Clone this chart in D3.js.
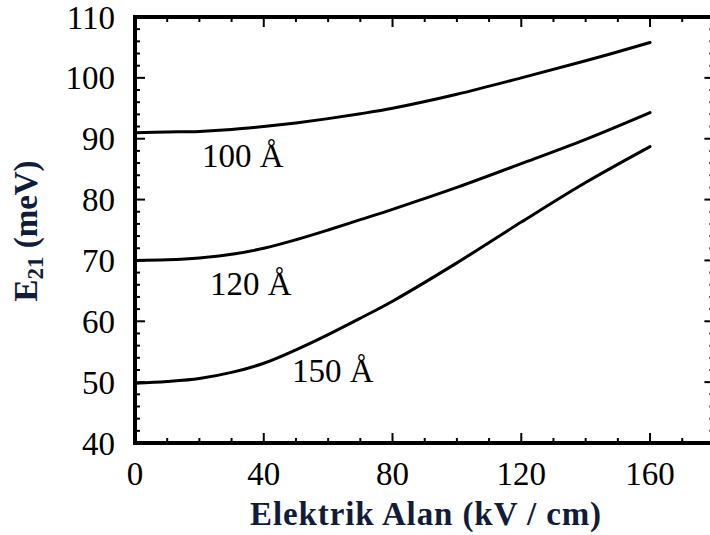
<!DOCTYPE html>
<html>
<head>
<meta charset="utf-8">
<script src="https://cdn.jsdelivr.net/npm/d3@7"></script>
<style>
  html, body { margin: 0; padding: 0; background: #fff; }
  svg { display: block; }
  text { font-family: "Liberation Serif", "Times New Roman", "DejaVu Serif", serif; }
</style>
</head>
<body>
<svg id="chart" width="710" height="535"></svg>
<script>
// Electric field (kV/cm) at which each curve is sampled
const fieldKV = [0, 10, 20, 30, 40, 50, 60, 70, 80, 100, 120, 140, 160];

// E21 transition energy (meV) for three well widths
const well100 = [91.0, 91.1, 91.2, 91.5, 92.0, 92.6, 93.3, 94.1, 95.0, 97.3, 100.0, 102.8, 105.8];
const well120 = [70.0, 70.1, 70.4, 71.0, 72.0, 73.4, 75.0, 76.7, 78.4, 82.0, 85.9, 89.9, 94.3];
const well150 = [49.8, 50.1, 50.6, 51.6, 53.1, 55.3, 57.8, 60.5, 63.3, 69.6, 76.3, 82.8, 88.7];

const seriesLabels = ["100 Å", "120 Å", "150 Å"];
const labelField = [20.8, 23.3, 48.8];   // left edge of each curve label, kV/cm
const labelEnergy = [85.4, 64.3, 50.0];  // baseline of each curve label, meV

const xTickLabels = [0, 40, 80, 120, 160];
const yTickLabels = [40, 50, 60, 70, 80, 90, 100, 110];

const serif = "'Liberation Serif', 'Times New Roman', 'DejaVu Serif', serif";
const svg = d3.select("#chart");
const plotLeft = 135, plotTop = 17, plotBottom = 443;
const x = d3.scaleLinear().domain([0, 180]).range([plotLeft, plotLeft + 180 * 3.219]);
const y = d3.scaleLinear().domain([40, 110]).range([plotBottom, plotTop]);
const plotRight = x(180);

const ink = "#000";
const titleInk = "#111c3a";

// minor/major tick marks on all four sides, pointing inward
const g = svg.append("g");
const xMinor = d3.range(0, 181, 10);
const yMinor = d3.range(40, 111, 2);
xMinor.forEach(v => {
  const len = v % 40 === 0 ? 10 : 5;
  g.append("line").attr("x1", x(v)).attr("x2", x(v)).attr("y1", plotBottom).attr("y2", plotBottom - len)
    .attr("stroke", ink).attr("stroke-width", 2);
  g.append("line").attr("x1", x(v)).attr("x2", x(v)).attr("y1", plotTop).attr("y2", plotTop + len)
    .attr("stroke", ink).attr("stroke-width", 2);
});
yMinor.forEach(v => {
  const len = v % 10 === 0 ? 10 : 5;
  g.append("line").attr("x1", plotLeft).attr("x2", plotLeft + len).attr("y1", y(v)).attr("y2", y(v))
    .attr("stroke", ink).attr("stroke-width", 2);
  g.append("line").attr("x1", plotRight).attr("x2", plotRight - len).attr("y1", y(v)).attr("y2", y(v))
    .attr("stroke", ink).attr("stroke-width", 2);
});

// frame
svg.append("rect")
  .attr("x", plotLeft).attr("y", plotTop)
  .attr("width", plotRight - plotLeft).attr("height", plotBottom - plotTop)
  .attr("fill", "none").attr("stroke", ink).attr("stroke-width", 4);

// tick labels
svg.append("g").selectAll("text").data(xTickLabels).join("text")
  .attr("x", d => x(d)).attr("y", plotBottom + 42)
  .attr("text-anchor", "middle").attr("font-family", serif).attr("font-size", 33).attr("fill", ink)
  .text(d => d);

svg.append("g").selectAll("text").data(yTickLabels).join("text")
  .attr("x", plotLeft - 20).attr("y", d => y(d)).attr("dy", "0.35em")
  .attr("text-anchor", "end").attr("font-family", serif).attr("font-size", 33).attr("fill", ink)
  .text(d => d);

// curves
const line = d3.line()
  .x(d => x(d[0])).y(d => y(d[1]))
  .curve(d3.curveCatmullRom.alpha(0.5));

[well100, well120, well150].forEach((vals, i) => {
  svg.append("path")
    .datum(fieldKV.map((f, k) => [f, vals[k]]))
    .attr("d", line)
    .attr("fill", "none").attr("stroke", ink).attr("stroke-width", 3)
    .attr("stroke-linecap", "round");
  svg.append("text")
    .attr("x", x(labelField[i])).attr("y", y(labelEnergy[i]))
    .attr("font-family", serif).attr("font-size", 33).attr("fill", ink)
    .text(seriesLabels[i]);
});

// axis titles
svg.append("text")
  .attr("x", 426).attr("y", 525)
  .attr("text-anchor", "middle").attr("font-family", serif)
  .attr("font-size", 33).attr("font-weight", "bold")
  .attr("fill", titleInk).attr("letter-spacing", 0.9)
  .text("Elektrik Alan (kV / cm)");

const yt = svg.append("text")
  .attr("transform", "translate(37,231) rotate(-90)")
  .attr("text-anchor", "middle").attr("font-family", serif)
  .attr("font-size", 33).attr("font-weight", "bold")
  .attr("fill", titleInk);
yt.append("tspan").text("E");
yt.append("tspan").attr("font-size", 23).attr("dy", 6).text("21");
yt.append("tspan").attr("dy", -6).text(" (meV)");
</script>
</body>
</html>
